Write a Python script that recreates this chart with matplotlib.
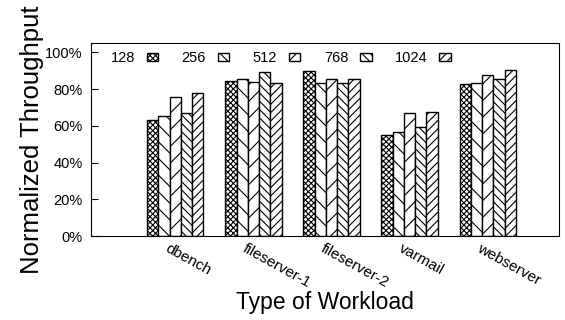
import matplotlib
matplotlib.use('Agg')
import matplotlib.pyplot as plt
import matplotlib.transforms as mtransforms
import numpy as np

plt.rcParams['font.family'] = ['Liberation Sans', 'DejaVu Sans']
plt.rcParams['hatch.linewidth'] = 0.8

# données
workloads = ['dbench', 'fileserver-1', 'fileserver-2', 'varmail', 'webserver']
sizes = ['128', '256', '512', '768', '1024']
t128 = [63.0, 84.6, 89.9, 54.9, 82.6]
t256 = [65.4, 85.3, 83.2, 56.7, 83.5]
t512 = [75.9, 84.1, 85.7, 66.8, 87.5]
t768 = [66.8, 89.3, 83.3, 59.2, 85.3]
t1024 = [78.1, 83.2, 85.7, 67.7, 90.4]
hatches = ['xxxxxx', '\\\\', '//', '\\\\\\\\', '////']

series = [t128, t256, t512, t768, t1024]

fig = plt.figure(figsize=(5.65, 3.2), dpi=100)
ax = fig.add_axes([0.161, 0.262, 0.828, 0.603])

x = np.arange(len(workloads))
w = 0.144
for i, (vals, h) in enumerate(zip(series, hatches)):
    ax.bar(x + (i - 2) * w, vals, w, color='white', edgecolor='black',
           hatch=h, linewidth=1.0, label=sizes[i])

ax.set_xlim(-1.08, 4.91)
ax.set_ylim(0, 105)
ax.set_yticks([0, 20, 40, 60, 80, 100])
ax.set_yticklabels(['%d%%' % v for v in [0, 20, 40, 60, 80, 100]], fontsize=10.5)
ax.tick_params(axis='y', direction='in', length=5, pad=6)
ax.tick_params(axis='x', length=0, pad=4)
ax.set_xticks(x)
ax.set_xticklabels(workloads, rotation=-29, ha='left', va='top',
                   rotation_mode='anchor', fontsize=11)
offset = mtransforms.ScaledTranslation(-6 / 100, 0, fig.dpi_scale_trans)
for lab in ax.get_xticklabels():
    lab.set_transform(lab.get_transform() + offset)

ax.set_ylabel('Normalized Throughput', fontsize=18.5, labelpad=1)
ax.set_xlabel('Type of Workload', fontsize=16.5, labelpad=0)

ax.legend(loc='upper left', ncol=5, frameon=False, markerfirst=False,
          fontsize=10.5, handlelength=0.8, handleheight=0.55, handletextpad=0.8,
          columnspacing=1.6, bbox_to_anchor=(0.025, 1.0), borderaxespad=0.15)

fig.savefig('out.png', dpi=100)
